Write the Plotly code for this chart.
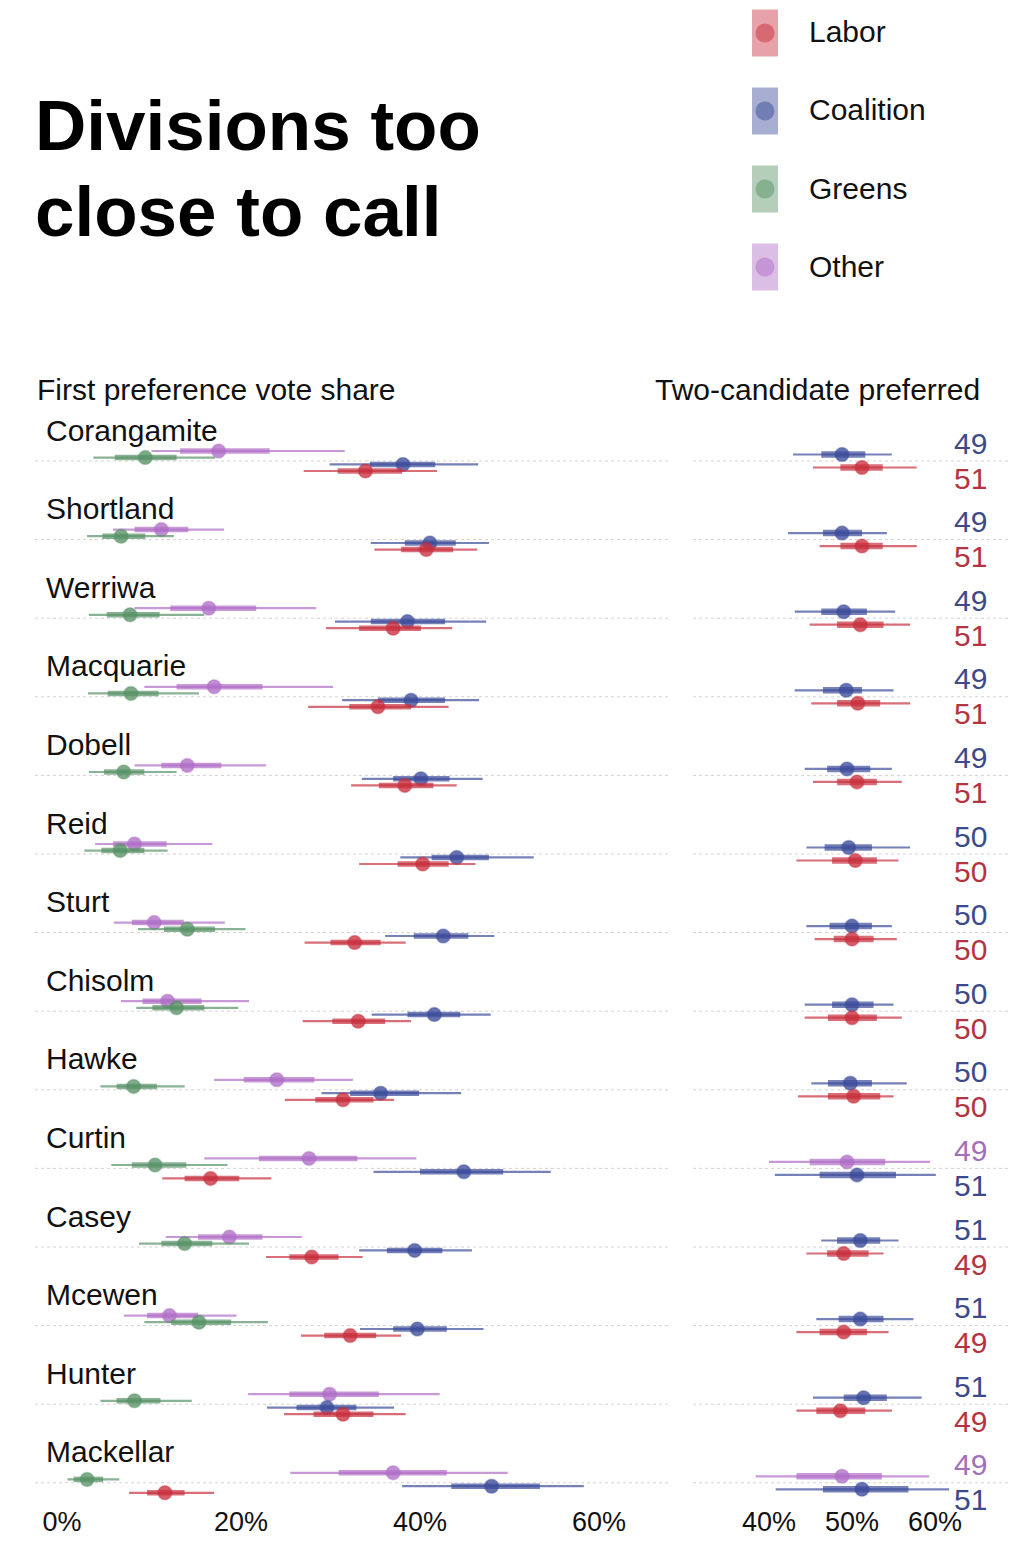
import plotly.graph_objects as go

# ---------------- data ----------------
divisions = ["Corangamite", "Shortland", "Werriwa", "Macquarie", "Dobell", "Reid", "Sturt",
             "Chisolm", "Hawke", "Curtin", "Casey", "Mcewen", "Hunter", "Mackellar"]

parties = ["Other", "Greens", "Coalition", "Labor"]  # top-to-bottom order within a row

labor_med  = [33.9, 40.7, 37.0, 35.3, 38.3, 40.3, 32.7, 33.1, 31.4, 16.6, 27.9, 32.2, 31.4, 11.5]
labor_lo66 = [30.8, 37.9, 33.2, 32.1, 35.4, 37.5, 30.0, 30.2, 28.3, 13.7, 25.4, 29.3, 28.1, 9.5]
labor_hi66 = [38.0, 43.7, 40.1, 39.0, 41.5, 43.2, 35.6, 36.1, 34.8, 19.8, 30.9, 35.1, 34.8, 13.7]
labor_lo95 = [27.0, 34.9, 29.5, 27.5, 32.3, 33.2, 27.1, 26.9, 24.9, 11.2, 22.8, 26.7, 24.8, 7.5]
labor_hi95 = [41.9, 46.4, 43.6, 43.2, 44.1, 46.2, 38.4, 39.0, 37.1, 23.4, 33.6, 37.9, 38.4, 17.0]

coalition_med  = [38.1, 41.1, 38.6, 39.0, 40.1, 44.1, 42.6, 41.6, 35.6, 44.9, 39.4, 39.7, 29.6, 48.0]
coalition_lo66 = [34.4, 38.3, 34.5, 35.3, 37.0, 41.3, 39.3, 38.6, 32.2, 40.0, 36.3, 37.0, 26.2, 43.5]
coalition_hi66 = [41.7, 44.0, 42.8, 42.8, 43.3, 47.7, 45.4, 44.5, 39.9, 49.3, 42.5, 43.0, 32.9, 53.4]
coalition_lo95 = [29.9, 34.5, 30.5, 31.3, 33.5, 37.8, 36.1, 34.6, 29.0, 34.8, 33.2, 33.3, 22.9, 38.0]
coalition_hi95 = [46.5, 47.7, 47.4, 46.6, 47.0, 52.7, 48.3, 47.9, 44.6, 54.6, 45.8, 47.1, 37.1, 58.3]

greens_med  = [9.3, 6.6, 7.6, 7.7, 6.9, 6.5, 14.0, 12.8, 8.0, 10.4, 13.7, 15.3, 8.1, 2.8]
greens_lo66 = [5.9, 4.5, 5.0, 5.1, 4.7, 4.4, 11.4, 10.1, 6.1, 7.8, 11.1, 12.2, 6.1, 1.3]
greens_hi66 = [12.8, 9.3, 10.9, 10.8, 9.2, 9.2, 17.1, 15.9, 10.6, 13.9, 16.8, 18.9, 11.0, 4.6]
greens_lo95 = [3.5, 2.8, 3.0, 2.9, 3.0, 2.5, 8.5, 8.3, 4.3, 5.5, 8.6, 9.2, 4.3, 0.6]
greens_hi95 = [17.1, 12.5, 15.9, 15.3, 12.8, 11.8, 20.5, 19.7, 13.7, 18.5, 20.9, 23.0, 14.5, 6.4]

other_med  = [17.5, 11.1, 16.4, 17.0, 14.0, 8.1, 10.3, 11.8, 24.0, 27.6, 18.7, 12.0, 29.9, 37.0]
other_lo66 = [13.2, 8.1, 12.1, 12.8, 11.1, 5.7, 7.8, 9.0, 20.3, 22.0, 15.2, 9.5, 25.4, 30.9]
other_hi66 = [23.2, 14.1, 21.7, 22.4, 17.8, 11.7, 13.6, 15.6, 28.2, 33.0, 22.4, 15.2, 35.4, 43.0]
other_lo95 = [10.0, 5.7, 8.1, 9.2, 8.1, 3.7, 5.8, 6.6, 17.0, 15.9, 11.6, 6.9, 20.8, 25.5]
other_hi95 = [31.6, 18.1, 28.4, 30.3, 22.8, 16.8, 18.2, 20.9, 32.5, 39.6, 26.8, 19.5, 42.2, 49.8]

# two-candidate preferred
tcp_top_party = ["Coalition"] * 9 + ["Other", "Coalition", "Coalition", "Coalition", "Other"]
tcp_bot_party = ["Labor"] * 9 + ["Coalition", "Labor", "Labor", "Labor", "Coalition"]
tcp_top_med  = [48.8, 48.8, 49.0, 49.3, 49.4, 49.6, 50.0, 50.0, 49.8, 49.4, 51.0, 51.0, 51.4, 48.8]
tcp_top_lo66 = [46.3, 46.5, 46.3, 46.5, 47.0, 46.7, 47.3, 47.6, 47.1, 44.9, 48.2, 48.4, 49.0, 43.3]
tcp_top_hi66 = [51.6, 51.2, 51.8, 51.2, 52.2, 52.4, 52.4, 52.6, 52.4, 54.0, 53.4, 53.8, 54.2, 53.6]
tcp_top_lo95 = [42.9, 42.3, 43.1, 43.1, 44.3, 44.5, 44.5, 44.3, 45.1, 40.0, 46.3, 45.7, 45.3, 38.4]
tcp_top_hi95 = [54.8, 54.2, 55.2, 55.0, 54.8, 57.0, 54.8, 55.0, 56.6, 59.4, 55.6, 57.4, 58.4, 59.3]
tcp_bot_med  = [51.2, 51.2, 51.0, 50.7, 50.6, 50.4, 50.0, 50.0, 50.2, 50.6, 49.0, 49.0, 48.6, 51.2]
tcp_bot_lo66 = [48.6, 48.6, 48.2, 48.2, 48.2, 47.6, 47.8, 47.1, 47.1, 46.1, 47.0, 46.1, 45.7, 46.5]
tcp_bot_hi66 = [53.7, 53.7, 53.8, 53.4, 53.0, 53.0, 52.6, 53.0, 53.4, 55.3, 52.0, 51.8, 51.6, 56.8]
tcp_bot_lo95 = [45.3, 46.1, 44.9, 45.1, 45.3, 43.3, 45.5, 44.3, 43.5, 40.7, 44.5, 43.3, 43.3, 40.8]
tcp_bot_hi95 = [57.8, 57.8, 57.0, 57.0, 56.0, 55.6, 55.4, 56.0, 55.0, 60.1, 53.8, 54.4, 54.8, 61.7]
tcp_top_label = ["49", "49", "49", "49", "49", "50", "50", "50", "50", "49", "51", "51", "51", "49"]
tcp_bot_label = ["51", "51", "51", "51", "51", "50", "50", "50", "50", "51", "49", "49", "49", "51"]

left_ticks = [0, 20, 40, 60]
left_tick_text = ["0%", "20%", "40%", "60%"]
right_ticks = [40, 50, 60]
right_tick_text = ["40%", "50%", "60%"]

# ---------------- styling ----------------
W, H = 1024, 1566
FONT = "Liberation Sans, Arial, Helvetica, sans-serif"
TXT = 30
rgb = {"Labor": (200, 48, 62), "Coalition": (60, 76, 154), "Greens": (88, 146, 102), "Other": (176, 110, 198)}
txt_col = {"Labor": "#b3343f", "Coalition": "#3c4a8a", "Greens": "#4f8a5d", "Other": "#a070b8"}


def rgba(p, a):
    r, g, b = rgb[p]
    return f"rgba({r},{g},{b},{a})"


ROW_PX = 78.6
BASE_PX = 461.0
px2y = lambda px: (px - BASE_PX) / ROW_PX
dodge_left = {"Other": -10.0, "Greens": -3.4, "Coalition": 3.4, "Labor": 10.0}
dodge_right = 6.5

left = {
    "Labor": (labor_med, labor_lo66, labor_hi66, labor_lo95, labor_hi95),
    "Coalition": (coalition_med, coalition_lo66, coalition_hi66, coalition_lo95, coalition_hi95),
    "Greens": (greens_med, greens_lo66, greens_hi66, greens_lo95, greens_hi95),
    "Other": (other_med, other_lo66, other_hi66, other_lo95, other_hi95),
}

fig = go.Figure()


def add_interval(xaxis, party, ys, med, lo66, hi66, lo95, hi95, thick_w=5.5):
    xt, yt, xk, yk = [], [], [], []
    for y, a, b, c, d in zip(ys, lo95, hi95, lo66, hi66):
        xt += [a, b, None]; yt += [y, y, None]
        xk += [c, d, None]; yk += [y, y, None]
    fig.add_trace(go.Scatter(x=xt, y=yt, mode="lines", xaxis=xaxis, yaxis="y",
                             line=dict(color=rgba(party, 0.7), width=2.2), hoverinfo="skip"))
    fig.add_trace(go.Scatter(x=xk, y=yk, mode="lines", xaxis=xaxis, yaxis="y",
                             line=dict(color=rgba(party, 0.7), width=thick_w), hoverinfo="skip"))
    fig.add_trace(go.Scatter(x=med, y=ys, mode="markers", xaxis=xaxis, yaxis="y",
                             marker=dict(color=rgba(party, 0.78), size=14,
                                         line=dict(color=rgba(party, 0.35), width=1.5)),
                             hoverinfo="skip"))


n = len(divisions)
for p in parties:
    ys = [i + dodge_left[p] / ROW_PX for i in range(n)]
    add_interval("x", p, ys, *left[p])

for pos, party_list, vals in [
    ("top", tcp_top_party, (tcp_top_med, tcp_top_lo66, tcp_top_hi66, tcp_top_lo95, tcp_top_hi95)),
    ("bot", tcp_bot_party, (tcp_bot_med, tcp_bot_lo66, tcp_bot_hi66, tcp_bot_lo95, tcp_bot_hi95)),
]:
    off = -dodge_right if pos == "top" else dodge_right
    for p in parties:
        idx = [i for i in range(n) if party_list[i] == p]
        if not idx:
            continue
        ys = [i + off / ROW_PX for i in idx]
        sub = [[v[i] for i in idx] for v in vals]
        add_interval("x2", p, ys, *sub, thick_w=6.5)

# ---------------- layout ----------------
shapes = []
for i in range(n):
    for xr in ("x domain", "x2 domain"):
        shapes.append(dict(type="line", xref=xr, yref="y", x0=0, x1=1, y0=i, y1=i, layer="below",
                           line=dict(color="#d2d2d2", width=1, dash="dot")))

annotations = []
for i, name in enumerate(divisions):
    annotations.append(dict(text=name, xref="paper", yref="y", x=44 / W, y=i - 31 / ROW_PX,
                            xanchor="left", yanchor="middle", showarrow=False,
                            font=dict(size=TXT, color="#111111", family=FONT)))
    annotations.append(dict(text=tcp_top_label[i], xref="paper", yref="y", x=952 / W, y=i - 18 / ROW_PX,
                            xanchor="left", yanchor="middle", showarrow=False,
                            font=dict(size=TXT, color=txt_col[tcp_top_party[i]], family=FONT)))
    annotations.append(dict(text=tcp_bot_label[i], xref="paper", yref="y", x=952 / W, y=i + 17 / ROW_PX,
                            xanchor="left", yanchor="middle", showarrow=False,
                            font=dict(size=TXT, color=txt_col[tcp_bot_party[i]], family=FONT)))


def pap_y(px):
    return 1 - px / H


annotations += [
    dict(text="<b>Divisions too</b>", xref="paper", yref="paper", x=33 / W, y=pap_y(125),
         xanchor="left", yanchor="middle", showarrow=False, font=dict(size=71, color="#000", family=FONT)),
    dict(text="<b>close to call</b>", xref="paper", yref="paper", x=33 / W, y=pap_y(212),
         xanchor="left", yanchor="middle", showarrow=False, font=dict(size=71, color="#000", family=FONT)),
    dict(text="First preference vote share", xref="paper", yref="paper", x=35 / W, y=pap_y(389),
         xanchor="left", yanchor="middle", showarrow=False, font=dict(size=TXT, color="#111", family=FONT)),
    dict(text="Two-candidate preferred", xref="paper", yref="paper", x=982 / W, y=pap_y(389),
         xanchor="right", yanchor="middle", showarrow=False, font=dict(size=TXT, color="#111", family=FONT)),
]

legend_items = ["Labor", "Coalition", "Greens", "Other"]
legend_cy = [33, 111, 189, 267]
for p, cy in zip(legend_items, legend_cy):
    shapes.append(dict(type="rect", xref="paper", yref="paper", x0=752 / W, x1=778 / W,
                       y0=pap_y(cy - 23.5), y1=pap_y(cy + 23.5), line=dict(width=0),
                       fillcolor=rgba(p, 0.45)))
    shapes.append(dict(type="circle", xref="paper", yref="paper", x0=755.5 / W, x1=774.5 / W,
                       y0=pap_y(cy - 9.5), y1=pap_y(cy + 9.5), line=dict(width=0),
                       fillcolor=rgba(p, 0.5)))
    annotations.append(dict(text=p, xref="paper", yref="paper", x=807 / W, y=pap_y(cy - 1),
                            xanchor="left", yanchor="middle", showarrow=False,
                            font=dict(size=TXT, color="#111", family=FONT)))

axis_pos = pap_y(1503)
fig.update_layout(
    width=W, height=H,
    margin=dict(l=0, r=0, t=0, b=0),
    paper_bgcolor="white", plot_bgcolor="white",
    showlegend=False,
    font=dict(family=FONT, color="#111"),
    xaxis=dict(domain=[35 / W, 668 / W], range=[(35 - 62) / 8.95, (668 - 62) / 8.95],
               anchor="free", position=axis_pos, tickmode="array",
               tickvals=left_ticks, ticktext=left_tick_text,
               showgrid=False, zeroline=False, showline=False, ticks="",
               tickfont=dict(size=27, color="#111", family=FONT)),
    xaxis2=dict(domain=[693 / W, 1010 / W], range=[50 + (693 - 852) / 8.3, 50 + (1010 - 852) / 8.3],
                anchor="free", position=axis_pos, tickmode="array",
                tickvals=right_ticks, ticktext=right_tick_text,
                showgrid=False, zeroline=False, showline=False, ticks="",
                tickfont=dict(size=27, color="#111", family=FONT)),
    yaxis=dict(domain=[0, 1], range=[px2y(H), px2y(0)], visible=False, showgrid=False, zeroline=False),
    shapes=shapes,
    annotations=annotations,
)

fig.write_html("out.html", config={"displayModeBar": False},
               post_script="document.body.style.margin='0';")
